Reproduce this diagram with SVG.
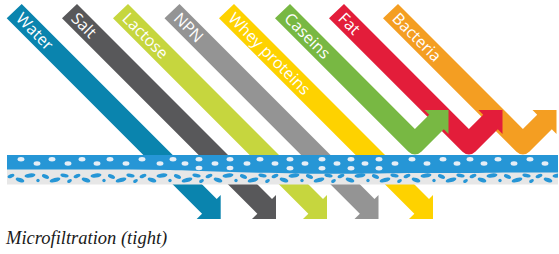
<svg xmlns="http://www.w3.org/2000/svg" width="559" height="254" viewBox="0 0 559 254">
<style>
.lbl{font-family:"Open Sans","Noto Sans",sans-serif;font-size:16px;fill:#ffffff}
.cap{font-family:"Liberation Serif",serif;font-style:italic;font-size:18.5px;fill:#1a1a1a}
.dot{fill:#e6eef6}
.pore{fill:#2696d6}
</style>
<defs>
<path id="pass" d="M0,18.3 L15,4 L210,199 L214,195 L214,219 L190,219 L195.35,213.65 Z"/>
<path id="bounce" d="M0,18.3 L15,4 L139.9,128.9 L154.2,114.7 L149.5,110 L173.5,110 L173.5,134 L168.8,129.3 L146.3,151.8 A9,9 0 0 1 133.5,151.8 Z"/>
<pattern id="pores" x="7" y="170" width="66" height="15" patternUnits="userSpaceOnUse">
<ellipse class="pore" cx="4" cy="6" rx="3.6" ry="1.9" transform="rotate(-20 4 6)"/>
<ellipse class="pore" cx="13" cy="10" rx="4.5" ry="2" transform="rotate(20 13 10)"/>
<ellipse class="pore" cx="23" cy="5.5" rx="5.5" ry="2.1" transform="rotate(-8 23 5.5)"/>
<circle class="pore" cx="31" cy="10.5" r="1.7"/>
<ellipse class="pore" cx="38.5" cy="6.5" rx="3.8" ry="2" transform="rotate(25 38.5 6.5)"/>
<ellipse class="pore" cx="48" cy="10" rx="5.5" ry="2.1" transform="rotate(-15 48 10)"/>
<ellipse class="pore" cx="57.5" cy="5.5" rx="4.2" ry="1.9" transform="rotate(10 57.5 5.5)"/>
<ellipse class="pore" cx="62.5" cy="11" rx="2.6" ry="1.6" transform="rotate(-30 62.5 11)"/>
</pattern>
</defs>

<g id="water" transform="translate(6.7,0)">
<use href="#pass" fill="#0a84ae"/>
<text class="lbl" transform="translate(8.3,19.6) rotate(45)">Water</text>
</g>
<g id="salt" transform="translate(62,0)">
<use href="#pass" fill="#58585a"/>
<text class="lbl" transform="translate(8.3,19.6) rotate(45)">Salt</text>
</g>
<g id="lactose" transform="translate(113,0)">
<use href="#pass" fill="#c6d63e"/>
<text class="lbl" transform="translate(8.3,19.6) rotate(45)">Lactose</text>
</g>
<g id="npn" transform="translate(164.5,0)">
<use href="#pass" fill="#949494"/>
<text class="lbl" transform="translate(8.3,19.6) rotate(45)">NPN</text>
</g>
<g id="whey" transform="translate(219,0)">
<use href="#pass" fill="#fed200"/>
<text class="lbl" transform="translate(8.3,19.6) rotate(45)">Whey proteins</text>
</g>
<g id="bacteria" transform="translate(383,0)">
<use href="#bounce" fill="#f49e22"/>
<text class="lbl" transform="translate(8.3,19.6) rotate(45)">Bacteria</text>
</g>
<g id="fat" transform="translate(329,0)">
<use href="#bounce" fill="#e31d3a"/>
<text class="lbl" transform="translate(8.3,19.6) rotate(45)">Fat</text>
</g>
<g id="caseins" transform="translate(275,0)">
<use href="#bounce" fill="#78b843"/>
<text class="lbl" transform="translate(8.3,19.6) rotate(45)">Caseins</text>
</g>

<g id="membrane">
<rect x="7" y="155" width="551" height="29.5" fill="#e7e7e7"/>
<rect x="7" y="170" width="551" height="14.5" fill="url(#pores)"/>
<path d="M7,155 H558 V172.5 C500,172 470,173.5 430,173 C390,172.5 360,174.5 300,173.5 C240,172.5 200,171 170,170 C120,169.5 60,169.5 7,169.5 Z" fill="#2696d6"/>
<g class="dots">
<ellipse class="dot" cx="21" cy="159.3" rx="3.4" ry="2.2"/>
<ellipse class="dot" cx="37" cy="163.5" rx="3.4" ry="2.2"/>
<ellipse class="dot" cx="52" cy="159.3" rx="3.4" ry="2.2"/>
<ellipse class="dot" cx="68" cy="163.5" rx="3.4" ry="2.2"/>
<ellipse class="dot" cx="82" cy="159.3" rx="3.4" ry="2.2"/>
<ellipse class="dot" cx="97" cy="163.5" rx="3.4" ry="2.2"/>
<ellipse class="dot" cx="110" cy="159.3" rx="3.4" ry="2.2"/>
<ellipse class="dot" cx="126" cy="163.5" rx="3.4" ry="2.2"/>
<ellipse class="dot" cx="142" cy="159.3" rx="3.4" ry="2.2"/>
<ellipse class="dot" cx="160" cy="163.5" rx="3.4" ry="2.2"/>
<ellipse class="dot" cx="173" cy="159.3" rx="3.4" ry="2.2"/>
<ellipse class="dot" cx="185" cy="163.5" rx="3.4" ry="2.2"/>
<ellipse class="dot" cx="199" cy="159.3" rx="3.4" ry="2.2"/>
<ellipse class="dot" cx="215" cy="163.5" rx="3.4" ry="2.2"/>
<ellipse class="dot" cx="230" cy="159.3" rx="3.4" ry="2.2"/>
<ellipse class="dot" cx="247" cy="163.5" rx="3.4" ry="2.2"/>
<ellipse class="dot" cx="260" cy="159.3" rx="3.4" ry="2.2"/>
<ellipse class="dot" cx="275" cy="163.5" rx="3.4" ry="2.2"/>
<ellipse class="dot" cx="290" cy="159.3" rx="3.4" ry="2.2"/>
<ellipse class="dot" cx="305" cy="163.5" rx="3.4" ry="2.2"/>
<ellipse class="dot" cx="322" cy="159.3" rx="3.4" ry="2.2"/>
<ellipse class="dot" cx="337" cy="163.5" rx="3.4" ry="2.2"/>
<ellipse class="dot" cx="351" cy="159.3" rx="3.4" ry="2.2"/>
<ellipse class="dot" cx="365" cy="163.5" rx="3.4" ry="2.2"/>
<ellipse class="dot" cx="379" cy="159.3" rx="3.4" ry="2.2"/>
<ellipse class="dot" cx="395" cy="163.5" rx="3.4" ry="2.2"/>
<ellipse class="dot" cx="412" cy="159.3" rx="3.4" ry="2.2"/>
<ellipse class="dot" cx="427" cy="163.5" rx="3.4" ry="2.2"/>
<ellipse class="dot" cx="443" cy="159.3" rx="3.4" ry="2.2"/>
<ellipse class="dot" cx="457" cy="163.5" rx="3.4" ry="2.2"/>
<ellipse class="dot" cx="470" cy="159.3" rx="3.4" ry="2.2"/>
<ellipse class="dot" cx="484" cy="163.5" rx="3.4" ry="2.2"/>
<ellipse class="dot" cx="498" cy="159.3" rx="3.4" ry="2.2"/>
<ellipse class="dot" cx="514" cy="163.5" rx="3.4" ry="2.2"/>
<ellipse class="dot" cx="530" cy="159.3" rx="3.4" ry="2.2"/>
<ellipse class="dot" cx="545" cy="163.5" rx="3.4" ry="2.2"/>
<ellipse class="dot" cx="199" cy="168" rx="3.4" ry="2.2"/>
<ellipse class="dot" cx="230" cy="168" rx="3.4" ry="2.2"/>
<ellipse class="dot" cx="290" cy="168.3" rx="3.4" ry="2.2"/>
<ellipse class="dot" cx="322" cy="168.3" rx="3.4" ry="2.2"/>
<ellipse class="dot" cx="351" cy="168.3" rx="3.4" ry="2.2"/>
<ellipse class="dot" cx="379" cy="168.3" rx="3.4" ry="2.2"/>
</g>
</g>

<text id="caption" class="cap" x="6" y="244">Microfiltration (tight)</text>
</svg>
